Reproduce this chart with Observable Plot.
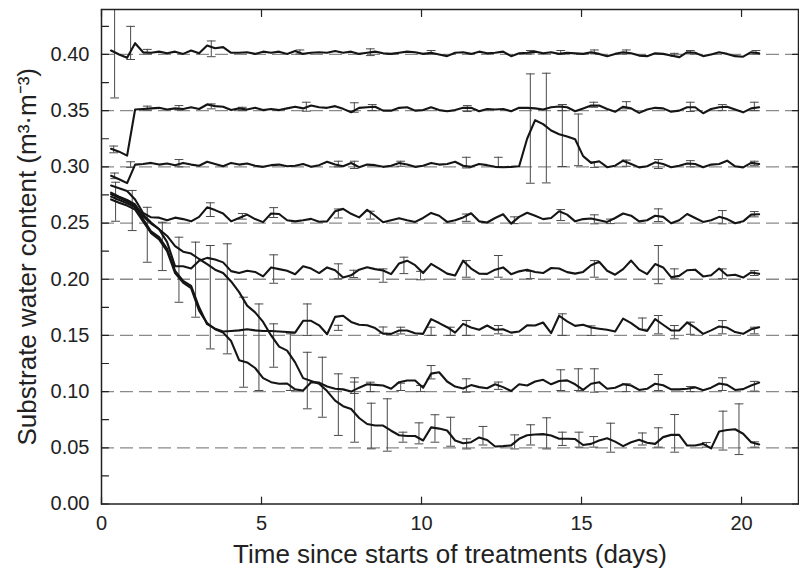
<!DOCTYPE html>
<html><head><meta charset="utf-8">
<script src="https://cdn.jsdelivr.net/npm/d3@7"></script>
<script src="https://cdn.jsdelivr.net/npm/@observablehq/plot@0.6"></script>
<style>body{margin:0;background:#fff}</style>
</head><body><div id="chart"></div>
<script>
// sample times (days)
const times = [0.30,0.55,0.80,1.05,1.30,1.55,1.80,2.05,2.30,2.55,2.80,3.05,3.30,3.55,3.80,4.05,4.30,4.55,4.80,5.05,5.30,5.55,5.80,6.05,6.30,6.55,6.80,7.05,7.30,7.55,7.80,8.05,8.30,8.55,8.80,9.05,9.30,9.55,9.80,10.05,10.30,10.55,10.80,11.05,11.30,11.55,11.80,12.05,12.30,12.55,12.80,13.05,13.30,13.55,13.80,14.05,14.30,14.55,14.80,15.05,15.30,15.55,15.80,16.05,16.30,16.55,16.80,17.05,17.30,17.55,17.80,18.05,18.30,18.55,18.80,19.05,19.30,19.55,19.80,20.05,20.30,20.55];

// substrate water content series (m3/m3), one per target level
const sw40 = [.4035,.4000,.3970,.4100,.4020,.4015,.4025,.4010,.4025,.4005,
 .4035,.4010,.4080,.4055,.4065,.4015,.4015,.4020,.4005,.4025,
 .4015,.4025,.4005,.4030,.4005,.4015,.4020,.4015,.4030,.4015,
 .4025,.4005,.4015,.4025,.4010,.4005,.4015,.4025,.4020,.4005,
 .4015,.4000,.3985,.4015,.4020,.4005,.4025,.4010,.4015,.4025,
 .3985,.4010,.4015,.4025,.4010,.4020,.4005,.4015,.4010,.4005,
 .4020,.4005,.3985,.4005,.4020,.4010,.3990,.3985,.4010,.4005,
 .3990,.3975,.4020,.4015,.3985,.4000,.4020,.4005,.3985,.3980,
 .4020,.4010];
const sw35 = [.3160,.3135,.3100,.3510,.3515,.3520,.3525,.3510,.3520,.3515,
 .3530,.3515,.3555,.3540,.3535,.3505,.3520,.3510,.3525,.3505,
 .3515,.3505,.3520,.3535,.3520,.3545,.3530,.3525,.3540,.3516,
 .3486,.3525,.3530,.3535,.3500,.3500,.3525,.3530,.3500,.3505,
 .3530,.3505,.3495,.3505,.3525,.3525,.3495,.3515,.3510,.3515,
 .3495,.3525,.3525,.3520,.3510,.3530,.3537,.3530,.3495,.3520,
 .3545,.3545,.3515,.3490,.3535,.3520,.3480,.3510,.3525,.3520,
 .3490,.3500,.3530,.3530,.3477,.3515,.3530,.3535,.3510,.3485,
 .3520,.3530];
const sw30 = [.2920,.2890,.2855,.3020,.3025,.3035,.3020,.3030,.3015,.3035,
 .3020,.3010,.3045,.3025,.3005,.3035,.3020,.3030,.3010,.3000,
 .3015,.3020,.3005,.3010,.3025,.3000,.3015,.3045,.3020,.3005,
 .3034,.2997,.3020,.3015,.3000,.3010,.3035,.3020,.3000,.3010,
 .3035,.3020,.3025,.3045,.3010,.3000,.3025,.3015,.3000,.2997,
 .3000,.3005,.3250,.3415,.3380,.3323,.3290,.3270,.3245,.3095,
 .3035,.3050,.2997,.3010,.3055,.3025,.2995,.3005,.3040,.3025,
 .2997,.3010,.3030,.3025,.2997,.3020,.3025,.3055,.3005,.2995,
 .3035,.3025];
const sw25 = [.2834,.2810,.2785,.2710,.2590,.2551,.2548,.2525,.2548,.2535,
 .2515,.2555,.2640,.2615,.2585,.2515,.2545,.2575,.2535,.2508,
 .2585,.2580,.2525,.2515,.2525,.2537,.2512,.2515,.2605,.2626,
 .2582,.2550,.2617,.2565,.2507,.2525,.2543,.2525,.2510,.2545,
 .2590,.2565,.2510,.2525,.2550,.2587,.2515,.2505,.2545,.2578,
 .2495,.2555,.2592,.2565,.2535,.2545,.2605,.2575,.2515,.2535,
 .2540,.2525,.2510,.2545,.2585,.2565,.2515,.2525,.2565,.2555,
 .2498,.2525,.2580,.2545,.2510,.2525,.2555,.2535,.2498,.2515,
 .2575,.2578];
const sw20 = [.2770,.2735,.2705,.2665,.2560,.2495,.2445,.2330,.2115,.2115,
 .2095,.2165,.2190,.2175,.2150,.2072,.2055,.2075,.2065,.2025,
 .2105,.2090,.2075,.2045,.2115,.2095,.2055,.2105,.2080,.2015,
 .2035,.2085,.2107,.2090,.2078,.2045,.2140,.2165,.2125,.2055,
 .2137,.2095,.2050,.2033,.2165,.2095,.2050,.2048,.2085,.2105,
 .2045,.2070,.2085,.2065,.2055,.2100,.2095,.2063,.2050,.2065,
 .2125,.2155,.2075,.2040,.2090,.2166,.2085,.2045,.2135,.2105,
 .2018,.2030,.2080,.2085,.2025,.2035,.2095,.2033,.2040,.2015,
 .2060,.2048];
const sw15 = [.2735,.2705,.2675,.2640,.2535,.2425,.2375,.2270,.2075,.1985,
 .1940,.1750,.1600,.1560,.1535,.1540,.1545,.1555,.1545,.1540,
 .1540,.1535,.1530,.1525,.1630,.1630,.1590,.1510,.1665,.1675,
 .1620,.1595,.1590,.1565,.1515,.1514,.1544,.1544,.1520,.1514,
 .1645,.1610,.1573,.1525,.1603,.1570,.1550,.1588,.1550,.1555,
 .1525,.1535,.1590,.1588,.1615,.1520,.1675,.1625,.1585,.1595,
 .1570,.1560,.1550,.1535,.1650,.1610,.1558,.1540,.1645,.1595,
 .1545,.1544,.1615,.1570,.1514,.1545,.1580,.1570,.1530,.1514,
 .1555,.1573];
const sw10 = [.2710,.2680,.2655,.2620,.2515,.2410,.2355,.2250,.2055,.1970,
 .1920,.1720,.1610,.1555,.1525,.1450,.1280,.1260,.1210,.1120,
 .1084,.1070,.1072,.1020,.1010,.1084,.1080,.1045,.1025,.1020,
 .1000,.1035,.1065,.1060,.1054,.1025,.1084,.1099,.1099,.1035,
 .1160,.1172,.1090,.1045,.1027,.1058,.1040,.1030,.1065,.1040,
 .1005,.1065,.1054,.1090,.1105,.1065,.1095,.1100,.1065,.1015,
 .1070,.1084,.1025,.1035,.1065,.1054,.1015,.1025,.1070,.1057,
 .1020,.1020,.1025,.1038,.1012,.1035,.1072,.1060,.1015,.1022,
 .1054,.1080];
const sw05 = [.2755,.2725,.2690,.2655,.2575,.2505,.2445,.2385,.2295,.2245,
 .2228,.2180,.2135,.2085,.2055,.1980,.1885,.1765,.1705,.1620,
 .1500,.1400,.1365,.1260,.1120,.1095,.1070,.1005,.0920,.0870,
 .0845,.0765,.0712,.0698,.0698,.0652,.0612,.0605,.0605,.0565,
 .0682,.0671,.0654,.0565,.0540,.0550,.0592,.0570,.0512,.0515,
 .0522,.0580,.0612,.0618,.0622,.0610,.0580,.0580,.0578,.0525,
 .0535,.0565,.0585,.0555,.0515,.0550,.0572,.0545,.0535,.0595,
 .0615,.0615,.0520,.0520,.0535,.0495,.0645,.0658,.0665,.0625,
 .0550,.0530];

// target levels (dashed reference lines)
const targets = [0.05,0.10,0.15,0.20,0.25,0.30,0.35,0.40];

// error bars: time, lower, upper
const errT = [0.41,0.91,1.43,3.43,6.20,8.40,10.30,13.40,14.35,15.40,16.40,17.90,18.40,20.45,
 0.38,1.43,2.42,3.43,4.40,6.40,7.90,8.46,11.43,14.40,15.38,16.40,18.40,19.40,20.40,
 0.41,0.91,2.42,7.40,7.90,9.35,11.40,12.40,13.40,13.90,14.40,14.90,15.40,16.40,17.40,18.40,20.40,
 0.44,0.96,1.43,1.90,3.40,4.40,5.38,7.40,8.40,11.40,12.90,14.35,15.40,15.90,17.40,19.40,20.40,
 2.42,2.94,3.40,3.93,5.38,7.40,7.88,8.80,9.45,9.97,11.40,12.40,13.40,15.40,17.40,17.90,19.40,20.40,
 4.44,4.92,6.43,7.40,8.80,9.35,10.30,10.90,11.40,12.40,14.40,15.30,16.90,17.40,17.90,18.40,19.40,20.40,
 5.38,5.90,6.43,6.90,7.40,7.90,8.40,9.35,9.97,10.30,11.40,12.40,14.35,14.90,15.40,16.40,17.40,18.40,19.40,20.40,
 7.91,8.43,8.93,9.42,9.92,10.42,10.91,11.41,11.92,12.91,13.41,13.91,14.40,14.92,15.38,15.91,16.90,17.40,17.91,18.90,19.42,19.92,20.41];
const errLo = [.3613,.3955,.4005,.3980,.4005,.3990,.4005,.4005,.4005,.4005,.4005,.3985,.4005,.4005,
 .3125,.3505,.3505,.3516,.3500,.3495,.3486,.3500,.3492,.3500,.3530,.3516,.3492,.3500,.3500,
 .2895,.2995,.3000,.3000,.2985,.3005,.2990,.3000,.2854,.2857,.3003,.3010,.2995,.3005,.2985,.3000,.3010,
 .2516,.2433,.2151,.2077,.2558,.2535,.2549,.2545,.2535,.2515,.2495,.2522,.2493,.2495,.2513,.2493,.2555,
 .1795,.1662,.1380,.1336,.1964,.2004,.2015,.1973,.2050,.1995,.2018,.2018,.2005,.2018,.1960,.2004,.2004,.2033,
 .1039,.1010,.1500,.1545,.1520,.1513,.1500,.1500,.1500,.1514,.1500,.1500,.1555,.1514,.1470,.1510,.1514,.1514,
 .1217,.1010,.0847,.0772,.0610,.0983,.1000,.1010,.1000,.1113,.0995,.1020,.1010,.1010,.0995,.1000,.1010,.1000,.1010,.1005,
 .0550,.0491,.0470,.0550,.0535,.0550,.0514,.0490,.0525,.0490,.0525,.0490,.0521,.0506,.0506,.0461,.0525,.0506,.0461,.0506,.0480,.0440,.0506];
const errHi = [.4450,.4250,.4045,.4120,.4040,.4050,.4035,.4035,.4035,.4040,.4040,.4010,.4035,.4035,
 .3185,.3540,.3545,.3560,.3530,.3575,.3570,.3554,.3545,.3554,.3575,.3580,.3575,.3554,.3575,
 .2945,.3045,.3065,.3050,.3050,.3050,.3085,.3085,.3827,.3833,.3554,.3470,.3045,.3060,.3065,.3055,.3050,
 .2863,.2790,.2640,.2507,.2680,.2585,.2637,.2625,.2605,.2580,.2555,.2620,.2573,.2535,.2626,.2611,.2602,
 .2374,.2330,.2300,.2315,.2217,.2137,.2080,.2092,.2196,.2070,.2166,.2211,.2070,.2166,.2300,.2092,.2092,.2077,
 .1840,.1780,.1780,.1590,.1575,.1573,.1573,.1573,.1633,.1588,.1692,.1585,.1655,.1677,.1588,.1618,.1632,.1573,
 .1603,.1514,.1350,.1306,.1158,.1085,.1084,.1075,.1055,.1232,.1114,.1085,.1194,.1203,.1203,.1070,.1152,.1045,.1123,.1091,
 .1123,.0897,.0936,.0639,.0722,.0794,.0772,.0580,.0690,.0615,.0705,.0767,.0639,.0639,.0600,.0719,.0632,.0678,.0796,.0547,.0826,.0891,.0553];

const xTicks = [0,5,10,15,20];
const yTicks = [0,0.05,0.10,0.15,0.20,0.25,0.30,0.35,0.40];
const yMinor = [0.025,0.075,0.125,0.175,0.225,0.275,0.325,0.375,0.425];

const series = [["0.40",sw40],["0.35",sw35],["0.30",sw30],["0.25",sw25],["0.20",sw20],["0.15",sw15],["0.10",sw10],["0.05",sw05]];
const rows = series.flatMap(([k, vals]) => vals.map((v, i) => ({s: k, t: times[i], v})));
const errs = errT.map((t, i) => ({t, lo: errLo[i], hi: errHi[i]}));

const X1 = 21.78, Y1 = 0.44;
const seg = {draw(ctx, l) { ctx.moveTo(0, 0); ctx.lineTo(0, -l); }};
const ink = "#222";

const chart = Plot.plot({
  width: 799, height: 577,
  marginLeft: 101, marginRight: 1, marginTop: 9, marginBottom: 73.5,
  x: {domain: [0, X1]},
  y: {domain: [0, Y1]},
  style: {fontFamily: "'Liberation Sans', Arial, Helvetica, sans-serif", background: "white", color: ink},
  marks: [
    Plot.ruleY(targets, {y: d => d, stroke: "#8a8a8a", strokeWidth: 1.3, strokeDasharray: "13,6"}),
    Plot.ruleX(errs, {x: "t", y1: "lo", y2: "hi", stroke: "#4a4a4a", strokeWidth: 1, clip: true}),
    Plot.vector(errs, {x: "t", y: "hi", length: 8, rotate: 90, anchor: "middle", shape: seg, stroke: "#4a4a4a", strokeWidth: 1, clip: true}),
    Plot.vector(errs, {x: "t", y: "lo", length: 8, rotate: 90, anchor: "middle", shape: seg, stroke: "#4a4a4a", strokeWidth: 1, clip: true}),
    Plot.line(rows, {x: "t", y: "v", z: "s", stroke: "#151515", strokeWidth: 2.1, strokeLinejoin: "round"}),
    Plot.frame({stroke: ink, strokeWidth: 1.5}),
    // inward ticks
    Plot.vector(xTicks, {x: d => d, y: 0, length: 7, rotate: 0, anchor: "start", shape: seg, stroke: ink, strokeWidth: 1.2}),
    Plot.vector(xTicks, {x: d => d, y: Y1, length: 7, rotate: 180, anchor: "start", shape: seg, stroke: ink, strokeWidth: 1.2}),
    Plot.vector(yTicks.concat(yMinor), {x: 0, y: d => d, length: 7, rotate: 90, anchor: "start", shape: seg, stroke: ink, strokeWidth: 1.2}),
    Plot.vector(yTicks, {x: X1, y: d => d, length: 6, rotate: -90, anchor: "start", shape: seg, stroke: ink, strokeWidth: 1.2}),
    Plot.axisX(xTicks, {tickSize: 0, tickPadding: 12, fontSize: 20, label: null, tickFormat: d => String(d)}),
    Plot.axisY(yTicks, {tickSize: 0, tickPadding: 12, fontSize: 20, label: null, tickFormat: d3.format(".2f")}),
    Plot.text(["Time since starts of treatments (days)"], {text: d => d, frameAnchor: "bottom", dy: 51, lineAnchor: "middle", textAnchor: "middle", fontSize: 26, fill: ink}),
    Plot.text(["Substrate water content (m³·m⁻³)"], {text: d => d, frameAnchor: "left", dx: -74, rotate: -90, textAnchor: "middle", lineAnchor: "middle", fontSize: 26, fill: ink})
  ]
});
document.getElementById("chart").appendChild(chart);
</script>
</body></html>
